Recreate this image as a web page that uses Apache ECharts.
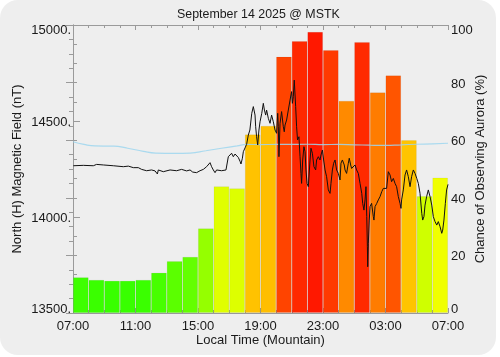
<!DOCTYPE html>
<html><head><meta charset="utf-8">
<script src="https://cdn.jsdelivr.net/npm/echarts@6/dist/echarts.min.js"></script>
<style>html,body{margin:0;padding:0;background:#fff;}#c{width:500px;height:357px;}</style>
</head><body><div id="c"></div>
<script>
// ---- data ----
const hourCategories = ['07','08','09','10','11','12','13','14','15','16','17','18','19','20','21','22','23','00','01','02','03','04','05','06'];
const auroraChance = [12.4, 11.5, 11.2, 11.2, 11.5, 14, 18, 19.5, 29.4, 44, 43.3, 62, 65, 89, 94.4, 97.6, 91.3, 73.7, 94.1, 76.6, 82.5, 60, 40.6, 47];

// hours after 07:00 local, and H-field in nT
const fieldHours = [0.02,0.66,1.30,1.51,1.94,2.58,3.22,3.54,3.86,4.18,4.39,4.71,5.03,5.25,5.40,5.46,5.78,6.21,6.63,6.95,7.06,7.27,7.49,7.66,7.91,8.13,8.34,8.55,8.77,8.87,8.98,9.09,9.19,9.51,9.79,9.94,10.15,10.26,10.37,10.47,10.58,10.69,10.75,10.84,10.90,11.01,11.11,
11.22,11.32,11.44,11.54,11.65,11.69,11.75,11.82,11.90,11.97,12.08,12.18,12.25,12.33,12.39,12.50,12.61,12.71,12.82,12.93,13.03,13.10,13.14,13.18,13.25,13.35,13.46,13.52,13.57,13.67,13.78,13.89,13.99,14.04,14.10,14.16,14.25,14.31,14.37,14.46,14.53,14.59,14.63,14.70,14.78,14.85,14.91,14.98,15.06,15.17,15.23,15.32,15.42,15.53,15.59,15.70,15.81,15.87,15.96,16.04,16.13,16.23,16.34,16.45,16.51,16.60,16.68,16.77,16.87,16.98,17.09,17.15,17.24,17.36,
17.41,17.51,17.62,17.68,17.77,17.83,17.94,18.05,18.15,18.26,18.37,18.48,18.54,18.62,18.69,18.75,18.80,18.84,18.86,18.90,18.96,19.01,19.11,19.22,19.26,19.33,19.44,19.54,19.65,19.76,19.86,20.07,20.18,20.29,20.39,20.50,20.61,20.71,20.82,20.93,20.99,21.03,21.14,21.25,21.35,21.46,21.57,21.67,21.78,21.89,22.00,22.10,22.21,22.32,22.38,22.46,22.53,22.63,22.74,22.85,22.96,23.06,23.17,23.28,23.38,23.49,23.60,23.66,23.74,23.83,23.91,24.00];
const fieldValues = [14267,14269,14267,14274,14271,14267,14262,14265,14257,14257,14248,14241,14245,14240,14224,14245,14236,14245,14241,14248,14241,14240,14245,14234,14231,14241,14248,14262,14283,14262,14245,14231,14245,14241,14245,14314,14332,14314,14328,14323,14310,14290,14276,14306,14340,14360,14378,
14427,14453,14540,14575,14531,14470,14418,14375,14453,14496,14540,14592,14557,14531,14557,14514,14488,14531,14496,14453,14436,14540,14470,14314,14488,14549,14470,14444,14479,14505,14557,14609,14653,14592,14627,14713,14575,14470,14401,14418,14314,14227,14175,14297,14366,14340,14245,14175,14158,14297,14358,14332,14262,14245,14297,14314,14297,14323,14349,14297,14245,14210,14141,14123,14175,14245,14280,14297,14245,14227,14193,14280,14297,14271,
14245,14227,14280,14306,14271,14253,14262,14271,14245,14227,14175,14123,14071,14036,14089,14158,14002,13845,13741,13863,13984,14054,14071,14002,13984,14054,14071,14089,14106,14132,14149,14149,14236,14219,14184,14201,14175,14158,14106,14071,14045,14089,14141,14219,14245,14210,14158,14210,14245,14227,14201,14175,14123,14019,13984,14002,14062,14106,14141,14106,14062,14002,13976,13958,13976,13950,13915,13932,13984,14071,14141,14170];

const baselineHours = [0,0.7,1.4,2.6,3.5,4.5,5.3,6.5,7.5,8.5,9.5,10.5,11.1,12,13,14,15,16,17,18,19,20,21,22,23,24];
const baselineValues = [14392,14378,14370,14369,14358,14342,14333,14331,14333,14345,14358,14370,14378,14377,14378,14378,14379,14377,14378,14376,14374,14373,14376,14379,14381,14384];

const xTickLabels = ['07:00','11:00','15:00','19:00','23:00','03:00','07:00'];
const fieldTickLabels = ['13500.','14000.','14500.','15000.'];
const chanceTickLabels = ['0','20','40','60','80','100'];

// ---- styles ----
const FONT = 'Liberation Sans, Arial, sans-serif';
const AXIS_COLOR = '#9a9a9a';
const TEXT_COLOR = '#1a1a1a';
const colorStops = [[10,[50,255,0]],[50,[255,255,0]],[60,[255,196,0]],[65,[255,190,0]],[74,[255,136,0]],[77,[255,122,0]],[82.5,[255,85,0]],[89,[255,68,0]],[91.3,[255,58,0]],[94,[255,42,0]],[97.6,[255,24,0]],[100,[255,10,0]]];
function chanceColor(v){
  if (v <= colorStops[0][0]) return 'rgb(' + colorStops[0][1].join(',') + ')';
  for (let i = 1; i < colorStops.length; i++){
    const a = colorStops[i-1], b = colorStops[i];
    if (v <= b[0]){
      const t = (v - a[0]) / (b[0] - a[0]);
      const c = a[1].map((x, k) => Math.round(x + (b[1][k] - x) * t));
      return 'rgb(' + c.join(',') + ')';
    }
  }
  return 'rgb(' + colorStops[colorStops.length-1][1].join(',') + ')';
}
function edgeRich(){
  const base = {fontSize: 13, fontFamily: FONT, color: TEXT_COLOR};
  return {
    lo: Object.assign({padding: [0,0,8,0]}, base),
    hi: Object.assign({padding: [10,0,0,0]}, base),
    mid: Object.assign({padding: [3,0,0,0]}, base)
  };
}
function edgeFormatter(labels){
  return function(v, i){
    const s = labels[i];
    if (i === 0) return '{lo|' + s + '}';
    if (i === labels.length - 1) return '{hi|' + s + '}';
    return '{mid|' + s + '}';
  };
}
const axisLineStyle = {show: true, lineStyle: {color: AXIS_COLOR, width: 1}};
const nameStyle = {fontSize: 13, fontFamily: FONT, color: TEXT_COLOR};

const chart = echarts.init(document.getElementById('c'), null, {renderer: 'canvas'});
chart.setOption({
  animation: false,
  backgroundColor: '#ffffff',
  graphic: [{type: 'rect', z: -10, shape: {x: 0, y: 0, width: 496, height: 355, r: 18}, style: {fill: '#eeeeee'}}],
  title: {text: 'September 14 2025 @ MSTK', left: 177, top: 9, padding: 0, textStyle: {fontSize: 12.4, fontWeight: 'normal', fontFamily: FONT, color: TEXT_COLOR}},
  grid: {left: 73, right: 52, top: 25, bottom: 44, containLabel: false, outerBoundsMode: 'none'},
  xAxis: [
    {type: 'value', min: 0, max: 24, interval: 4, position: 'bottom',
     axisLine: axisLineStyle, splitLine: {show: false},
     axisTick: {inside: true, length: 5, lineStyle: {color: AXIS_COLOR}},
     minorTick: {show: true, splitNumber: 4, length: 3, lineStyle: {color: AXIS_COLOR}},
     axisLabel: {formatter: (v) => xTickLabels[Math.round(v / 4)], fontSize: 13, fontFamily: FONT, color: TEXT_COLOR, margin: 7},
     name: 'Local Time (Mountain)', nameLocation: 'middle', nameGap: 21, nameMoveOverlap: false, nameTextStyle: nameStyle},
    {type: 'value', min: 0, max: 24, interval: 4, position: 'top',
     axisLine: axisLineStyle, splitLine: {show: false},
     axisTick: {inside: true, length: 5, lineStyle: {color: AXIS_COLOR}},
     minorTick: {show: true, splitNumber: 4, length: 3, lineStyle: {color: AXIS_COLOR}},
     axisLabel: {show: false}},
    {type: 'category', data: hourCategories, position: 'bottom', show: false, boundaryGap: true}
  ],
  yAxis: [
    {type: 'value', min: 13500, max: 15000, interval: 500, position: 'left',
     axisLine: axisLineStyle, splitLine: {show: false},
     axisTick: {inside: true, length: 7, lineStyle: {color: AXIS_COLOR}},
     minorTick: {show: true, splitNumber: 5, length: 4, lineStyle: {color: AXIS_COLOR}},
     axisLabel: {formatter: edgeFormatter(fieldTickLabels), rich: edgeRich(), margin: 2, fontSize: 13, fontFamily: FONT, color: TEXT_COLOR},
     name: 'North (H) Magnetic Field (nT)', nameLocation: 'middle', nameRotate: 90, nameGap: 49, nameMoveOverlap: false, nameTextStyle: nameStyle},
    {type: 'value', min: 0, max: 100, interval: 20, position: 'right',
     axisLine: axisLineStyle, splitLine: {show: false},
     axisTick: {inside: true, length: 7, lineStyle: {color: AXIS_COLOR}},
     minorTick: {show: true, splitNumber: 4, length: 4, lineStyle: {color: AXIS_COLOR}},
     axisLabel: {formatter: edgeFormatter(chanceTickLabels), rich: edgeRich(), margin: 3, fontSize: 13, fontFamily: FONT, color: TEXT_COLOR},
     name: 'Chance of Observing Aurora (%)', nameLocation: 'middle', nameRotate: 90, nameGap: 26, nameMoveOverlap: false, nameTextStyle: nameStyle}
  ],
  series: [
    {type: 'bar', xAxisIndex: 2, yAxisIndex: 1, data: auroraChance, barWidth: '100%', barCategoryGap: 0, z: 1,
     itemStyle: {color: (p) => chanceColor(p.value), borderColor: 'rgba(0,0,0,0.07)', borderWidth: 0.8}},
    {type: 'line', xAxisIndex: 0, yAxisIndex: 0, data: baselineHours.map((h, i) => [h, baselineValues[i]]), showSymbol: false, smooth: true, z: 3,
     lineStyle: {color: '#9dd6ee', width: 1.2, opacity: 0.85}},
    {type: 'line', xAxisIndex: 0, yAxisIndex: 0, data: fieldHours.map((h, i) => [h, fieldValues[i]]), showSymbol: false, z: 4,
     lineStyle: {color: '#111111', width: 1}}
  ]
});
</script>
</body></html>
